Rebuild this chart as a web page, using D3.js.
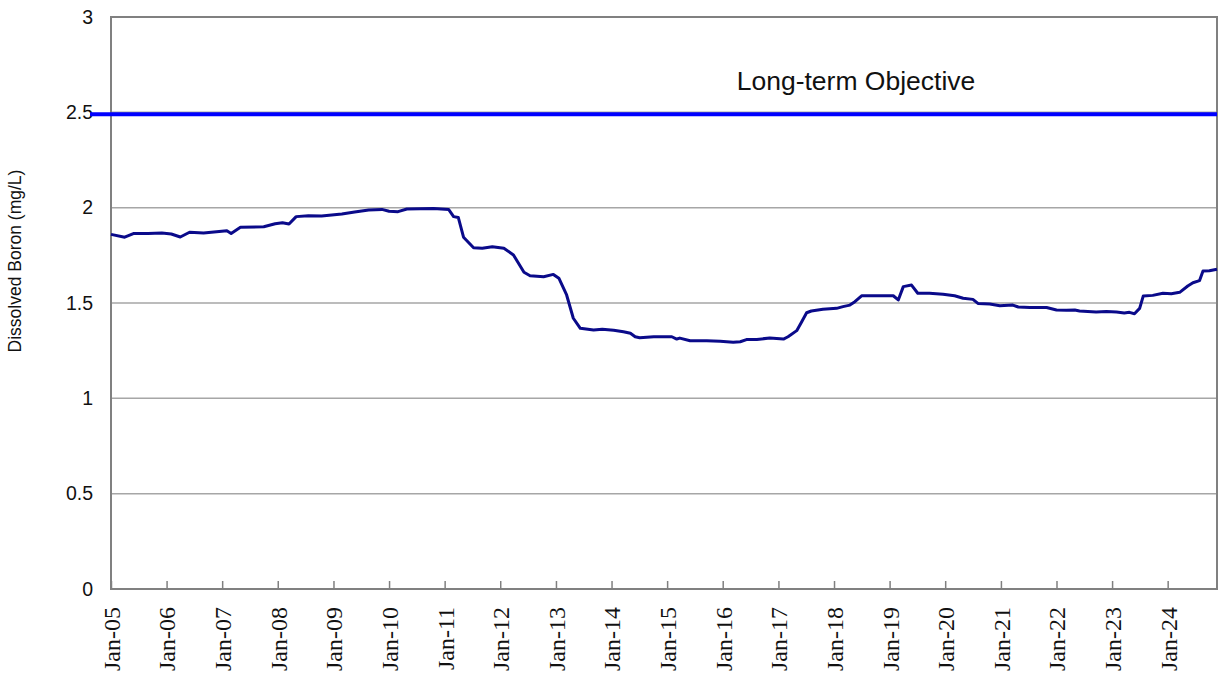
<!DOCTYPE html>
<html>
<head>
<meta charset="utf-8">
<script src="https://cdn.jsdelivr.net/npm/d3@7"></script>
<style>
  body { margin: 0; background: #fff; }
  svg { display: block; }
</style>
</head>
<body>
<div id="chart"></div>
<script>
// Sample dates and dissolved boron values (mg/L)
const dates = [
  "2005-01-01", "2005-04-01", "2005-06-01", "2005-09-01", "2005-12-01",
  "2006-02-01", "2006-04-01", "2006-06-01", "2006-09-01", "2007-02-01",
  "2007-03-01", "2007-05-01", "2007-10-01", "2007-12-15", "2008-02-01",
  "2008-03-15", "2008-05-01", "2008-07-20", "2008-10-15", "2009-02-25",
  "2009-05-20", "2009-08-20", "2009-11-15", "2010-01-01", "2010-03-01",
  "2010-04-28", "2010-10-20", "2011-01-28", "2011-03-01", "2011-04-01",
  "2011-05-05", "2011-07-10", "2011-09-05", "2011-11-10", "2012-01-25",
  "2012-03-28", "2012-06-05", "2012-07-15", "2012-10-12", "2012-12-15",
  "2013-01-20", "2013-03-12", "2013-04-25", "2013-06-10", "2013-09-05",
  "2013-11-01", "2014-01-15", "2014-03-20", "2014-05-05", "2014-06-05",
  "2014-07-05", "2014-10-05", "2015-02-01", "2015-03-05", "2015-03-25",
  "2015-06-01", "2015-09-18", "2015-12-15", "2016-03-10", "2016-04-25",
  "2016-06-05", "2016-08-12", "2016-11-05", "2017-02-03", "2017-03-05",
  "2017-05-01", "2017-06-03", "2017-07-05", "2017-08-05", "2017-10-20",
  "2018-01-18", "2018-03-01", "2018-04-15", "2018-05-18", "2018-07-01",
  "2019-01-25", "2019-02-27", "2019-04-01", "2019-05-25", "2019-07-05",
  "2019-09-20", "2019-12-18", "2020-03-03", "2020-04-28", "2020-07-01",
  "2020-08-03", "2020-10-20", "2020-12-25", "2021-03-20", "2021-04-25",
  "2021-07-10", "2021-10-28", "2022-01-01", "2022-03-07", "2022-05-01",
  "2022-06-01", "2022-09-18", "2022-11-25", "2023-01-30", "2023-03-22",
  "2023-04-25", "2023-05-28", "2023-07-01", "2023-07-25", "2023-09-25",
  "2023-12-01", "2024-01-25", "2024-03-20", "2024-05-12", "2024-06-15",
  "2024-07-28", "2024-08-20", "2024-10-01", "2024-11-20",
]

const boron = [
  1.86, 1.845, 1.865, 1.865, 1.867,
  1.862, 1.846, 1.871, 1.867, 1.879,
  1.865, 1.897, 1.9, 1.916, 1.921,
  1.914, 1.953, 1.958, 1.956, 1.967,
  1.977, 1.988, 1.991, 1.981, 1.979,
  1.993, 1.996, 1.99, 1.953, 1.948,
  1.845, 1.79, 1.787, 1.795, 1.787,
  1.752, 1.661, 1.643, 1.638, 1.65,
  1.63, 1.542, 1.42, 1.367, 1.358,
  1.362, 1.357, 1.349, 1.341, 1.323,
  1.318, 1.323, 1.323, 1.311, 1.316,
  1.302, 1.302, 1.299, 1.294, 1.297,
  1.308, 1.309, 1.316, 1.311, 1.323,
  1.355, 1.402, 1.449, 1.458, 1.467,
  1.472, 1.481, 1.489, 1.507, 1.538,
  1.538, 1.516, 1.586, 1.594, 1.551,
  1.551, 1.546, 1.538, 1.525, 1.519,
  1.498, 1.495, 1.486, 1.489, 1.479,
  1.477, 1.476, 1.463, 1.462, 1.463,
  1.458, 1.453, 1.456, 1.453, 1.448,
  1.451, 1.444, 1.472, 1.537, 1.54,
  1.551, 1.549, 1.556, 1.589, 1.606,
  1.617, 1.668, 1.669, 1.677,
]

const yTicks = [0, 0.5, 1, 1.5, 2, 2.5, 3]
const tickYears = d3.range(2005, 2025)
const objective = 2.49
const objectiveLabel = "Long-term Objective"
const yTitle = "Dissolved Boron (mg/L)"

drawChart()

function drawChart() {
  const width = 1225,
    height = 677
  const left = 111,
    right = 1217,
    top = 17,
    bottom = 589

  const parse = d3.timeParse("%Y-%m-%d")
  const data = dates.map((d, i) => ({ date: parse(d), value: boron[i] }))

  const svg = d3
    .select("#chart")
    .append("svg")
    .attr("width", width)
    .attr("height", height)
    .style("background", "#fff")

  const x = d3
    .scaleTime()
    .domain(d3.extent(data, (d) => d.date))
    .range([left, right])

  const y = d3.scaleLinear().domain([0, 3]).range([bottom, top])

  // Horizontal gridlines
  svg
    .append("g")
    .selectAll("line")
    .data(yTicks.filter((t) => t > 0 && t < 3))
    .enter()
    .append("line")
    .attr("x1", left)
    .attr("x2", right)
    .attr("y1", (d) => y(d))
    .attr("y2", (d) => y(d))
    .style("stroke", "#a6a6a6")
    .style("stroke-width", 1.5)

  // Y axis labels
  const yAxis = svg
    .append("g")
    .attr("transform", `translate(${left},0)`)
    .call(d3.axisLeft(y).tickValues(yTicks).tickSize(0).tickPadding(18).tickFormat(d3.format("")))
  yAxis.select(".domain").remove()
  yAxis
    .selectAll("text")
    .style("font-family", "Arial, 'Liberation Sans', sans-serif")
    .style("font-size", "19.5px")
    .style("fill", "#111")

  // X axis ticks point up into the plot, labels rotated
  const xAxis = svg
    .append("g")
    .attr("transform", `translate(0,${bottom})`)
    .call(
      d3
        .axisBottom(x)
        .tickValues(tickYears.map((yr) => new Date(yr, 0, 1)))
        .tickSizeInner(-8)
        .tickSizeOuter(0)
        .tickFormat(d3.timeFormat("%b-%y")),
    )
  xAxis.select(".domain").remove()
  xAxis.selectAll("line").style("stroke", "#808080").style("stroke-width", 1.5)
  xAxis
    .selectAll("text")
    .attr("transform", "rotate(-90)")
    .attr("text-anchor", "end")
    .attr("x", -18)
    .attr("y", 0)
    .attr("dy", "0.35em")
    .style("font-family", "'Times New Roman', 'Liberation Serif', serif")
    .style("font-size", "24px")
    .style("fill", "#111")

  // Plot frame
  svg
    .append("rect")
    .attr("x", left)
    .attr("y", top)
    .attr("width", right - left)
    .attr("height", bottom - top)
    .style("fill", "none")
    .style("stroke", "#808080")
    .style("stroke-width", 2)

  // Long-term objective line
  svg
    .append("line")
    .attr("x1", left - 21)
    .attr("x2", right)
    .attr("y1", y(objective))
    .attr("y2", y(objective))
    .style("stroke", "#0000ff")
    .style("stroke-width", 4)

  svg
    .append("text")
    .attr("x", 856)
    .attr("y", 90)
    .attr("text-anchor", "middle")
    .style("font-family", "Arial, 'Liberation Sans', sans-serif")
    .style("font-size", "26.5px")
    .style("fill", "#111")
    .text(objectiveLabel)

  // Boron series
  const line = d3
    .line()
    .x((d) => x(d.date))
    .y((d) => y(d.value))

  svg
    .append("path")
    .datum(data)
    .attr("d", line)
    .style("fill", "none")
    .style("stroke", "#0a0a8a")
    .style("stroke-width", 3)
    .style("stroke-linejoin", "round")

  // Y axis title
  svg
    .append("text")
    .attr("transform", "translate(21,261) rotate(-90)")
    .attr("text-anchor", "middle")
    .style("font-family", "Arial, 'Liberation Sans', sans-serif")
    .style("font-size", "17.5px")
    .style("fill", "#111")
    .text(yTitle)
}
</script>
</body>
</html>
